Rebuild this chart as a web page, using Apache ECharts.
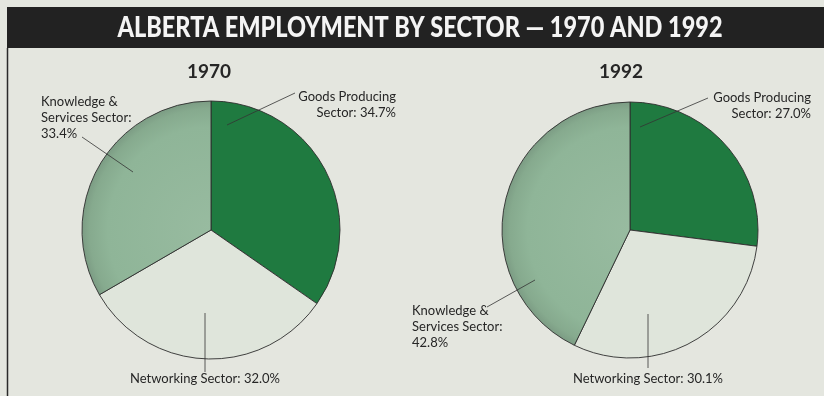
<!DOCTYPE html>
<html>
<head>
<meta charset="utf-8">
<script src="https://cdn.jsdelivr.net/npm/echarts@6/dist/echarts.min.js"></script>
<style>
  html, body { margin: 0; padding: 0; background: #e4e6df; }
  #chart { width: 824px; height: 396px; }
</style>
</head>
<body>
<div id="chart"></div>
<script>
// Employment shares by sector, in percent (order: goods, networking, knowledge)
const sectors = ['Goods Producing Sector', 'Networking Sector', 'Knowledge & Services Sector'];
const years = ['1970', '1992'];
const share1970 = [34.7, 32.0, 33.4];
const share1992 = [27.0, 30.1, 42.8];
const titleText = 'ALBERTA EMPLOYMENT BY SECTOR — 1970 AND 1992';

// Label wording per sector; {v} is replaced by the slice value
const labelTemplates = [
  'Goods Producing\nSector: {v}%',
  'Networking Sector: {v}%',
  'Knowledge &\nServices Sector:\n{v}%'
];

// ---- styling / layout ----
const sectorColors = ['#1f7a40', '#dfe5db', '#93b99c'];
const pies = [
  { cx: 211, cy: 230, r: 129, titleX: 209 },
  { cx: 630, cy: 230, r: 128, titleX: 621 }
];
// label anchor and leader line (point inside slice -> point next to label) per pie / sector
const labelPlacement = [
  [
    { x: 396, y: 89, align: 'right', from: [227, 125], to: [295, 93] },
    { x: 205, y: 371, align: 'center', from: [205, 313], to: [205, 372] },
    { x: 41, y: 94, align: 'left', from: [133, 172], to: [82, 137] }
  ],
  [
    { x: 811, y: 90, align: 'right', from: [640, 127], to: [708, 98] },
    { x: 648, y: 371, align: 'center', from: [648, 314], to: [648, 368] },
    { x: 412, y: 303, align: 'left', from: [535, 280], to: [487, 307] }
  ]
];

const chart = echarts.init(document.getElementById('chart'), null, { renderer: 'canvas' });

// condensed title: squeeze a bold face to the banner width
const mctx = document.createElement('canvas').getContext('2d');
mctx.font = '900 28px Lato';
const titleWidth = mctx.measureText(titleText).width;
const titleScale = 605 / titleWidth;

function knowledgeFill(p) {
  return {
    type: 'radial', x: p.cx, y: p.cy, r: p.r, global: true,
    colorStops: [
      { offset: 0, color: '#98bba0' },
      { offset: 0.8, color: '#8fb598' },
      { offset: 0.94, color: '#86aa8e' },
      { offset: 1, color: '#7c9c84' }
    ]
  };
}

const shares = [share1970, share1992];

const series = years.map((yr, i) => {
  const p = pies[i];
  return {
    type: 'pie',
    name: yr,
    center: [p.cx, p.cy],
    radius: [0, p.r],
    startAngle: 90,
    clockwise: true,
    avoidLabelOverlap: false,
    silent: true,
    animation: false,
    itemStyle: { borderColor: '#2e2e2e', borderWidth: 0.9 },
    data: sectors.map((s, j) => ({
      name: s,
      value: shares[i][j],
      itemStyle: { color: j === 2 ? knowledgeFill(p) : sectorColors[j] }
    })),
    label: {
      show: true,
      position: 'outside',
      fontFamily: 'Lato',
      fontSize: 13,
      lineHeight: 16,
      color: '#262626',
      formatter: (prm) => labelTemplates[prm.dataIndex].replace('{v}', prm.value.toFixed(1))
    },
    labelLine: { show: false },
    labelLayout: (prm) => {
      const L = labelPlacement[i][prm.dataIndex];
      return { x: L.x, y: L.y, align: L.align, verticalAlign: 'top' };
    }
  };
});

// leader lines from inside each slice to its label
const leaders = [];
labelPlacement.forEach((row) => row.forEach((L) => {
  leaders.push({
    type: 'line',
    shape: { x1: L.from[0], y1: L.from[1], x2: L.to[0], y2: L.to[1] },
    style: { stroke: '#333', lineWidth: 0.8 },
    z: 10,
    silent: true
  });
}));

chart.setOption({
  backgroundColor: '#e4e6df',
  animation: false,
  title: years.map((yr, i) => ({
    text: yr,
    left: pies[i].titleX,
    top: 62,
    padding: 0,
    textAlign: 'center',
    textStyle: { fontFamily: 'Lato', fontWeight: 'bold', fontSize: 19, color: '#262626' }
  })),
  graphic: [
    { type: 'rect', shape: { x: 7, y: 7, width: 817, height: 41 }, style: { fill: '#222222' }, silent: true },
    { type: 'line', shape: { x1: 7.5, y1: 48, x2: 7.5, y2: 396 }, style: { stroke: '#2a2a2a', lineWidth: 1.5 }, silent: true },
    {
      type: 'text',
      x: 420, y: 28,
      scaleX: titleScale,
      style: {
        text: titleText,
        fill: '#f4f4f4',
        font: '900 28px Lato',
        textAlign: 'center',
        textVerticalAlign: 'middle'
      },
      silent: true
    }
  ].concat(leaders),
  series: series
});
</script>
</body>
</html>
